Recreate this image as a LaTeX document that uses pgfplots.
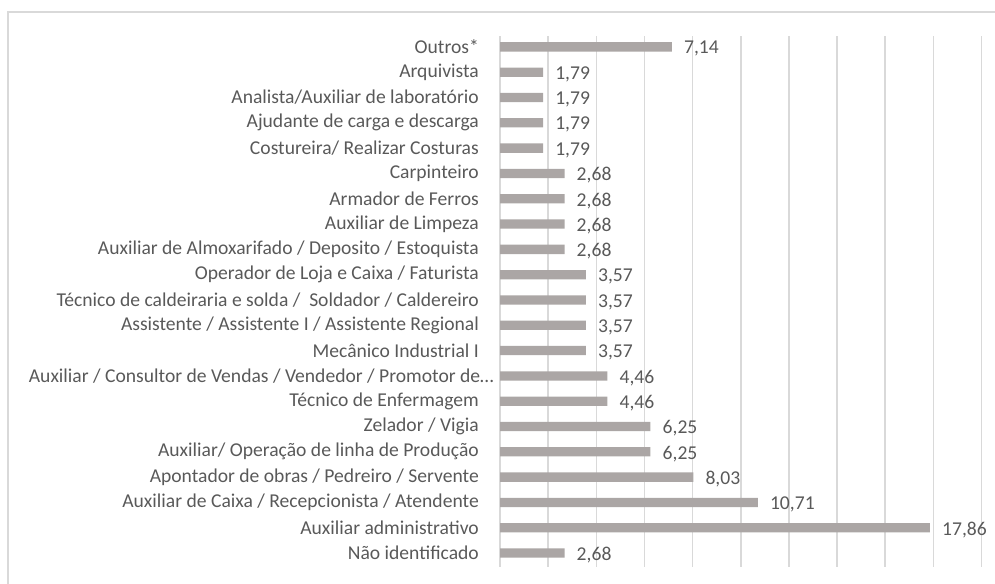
\documentclass[border=0pt]{standalone}
\usepackage{pgfplots}
\pgfplotsset{compat=1.18}
\usepackage{fontspec}
\setmainfont{Carlito}
\definecolor{gridgray}{RGB}{217,217,217}
\definecolor{bargray}{RGB}{171,166,165}
\definecolor{txtgray}{RGB}{89,89,89}
\begin{document}
\begin{tikzpicture}[x=1bp,y=1bp]
\useasboundingbox (0,0) rectangle (995,584);
\draw[gridgray, line width=1.5bp] (8,0) -- (8,572) -- (995,572);
\begin{axis}[
  at={(500bp,17bp)}, anchor=south west,
  scale only axis, width=481.5bp, height=531bp,
  xmin=0, xmax=20, ymin=-0.55, ymax=20.43,
  axis line style={draw=none},
  xtick={0,2,...,20}, xticklabels={},
  xmajorgrids, grid style={draw=gridgray, line width=1.5bp},
  major tick length=0pt,
  ytick={0,...,20},
  yticklabels={{Não identificado},{Auxiliar administrativo},{Auxiliar de Caixa / Recepcionista / Atendente},{Apontador de obras / Pedreiro / Servente},{Auxiliar/ Operação de linha de Produção},{Zelador / Vigia},{Técnico de Enfermagem},{Auxiliar / Consultor de Vendas / Vendedor / Promotor de…\hspace*{-15bp}},{Mecânico Industrial I},{Assistente / Assistente I / Assistente Regional},{Técnico de caldeiraria e solda / \ Soldador / Caldereiro},{Operador de Loja e Caixa / Faturista},{Auxiliar de Almoxarifado / Deposito / Estoquista},{Auxiliar de Limpeza},{Armador de Ferros},{Carpinteiro},{Costureira/ Realizar Costuras},{Ajudante de carga e descarga},{Analista/Auxiliar de laboratório},{Arquivista},{Outros*}},
  yticklabel style={font=\fontsize{19.6bp}{22bp}\selectfont, text=txtgray, inner sep=0pt, xshift=-21bp},
  clip=false,
  xbar, bar width=9.3bp, bar shift=0pt,
  point meta=explicit symbolic,
  nodes near coords,
  nodes near coords style={font=\fontsize{19.6bp}{22bp}\selectfont, text=txtgray, anchor=west, inner sep=0pt, xshift=12bp, yshift=-2bp},
]
\addplot[fill=bargray, draw=none] table[x=x, y=y, meta=lab] {
y x lab
0 2.68 2,68
1 17.86 17,86
2 10.71 10,71
3 8.03 8,03
4 6.25 6,25
5 6.25 6,25
6 4.46 4,46
7 4.46 4,46
8 3.57 3,57
9 3.57 3,57
10 3.57 3,57
11 3.57 3,57
12 2.68 2,68
13 2.68 2,68
14 2.68 2,68
15 2.68 2,68
16 1.79 1,79
17 1.79 1,79
18 1.79 1,79
19 1.79 1,79
20 7.14 7,14
};
\end{axis}
\end{tikzpicture}
\end{document}
